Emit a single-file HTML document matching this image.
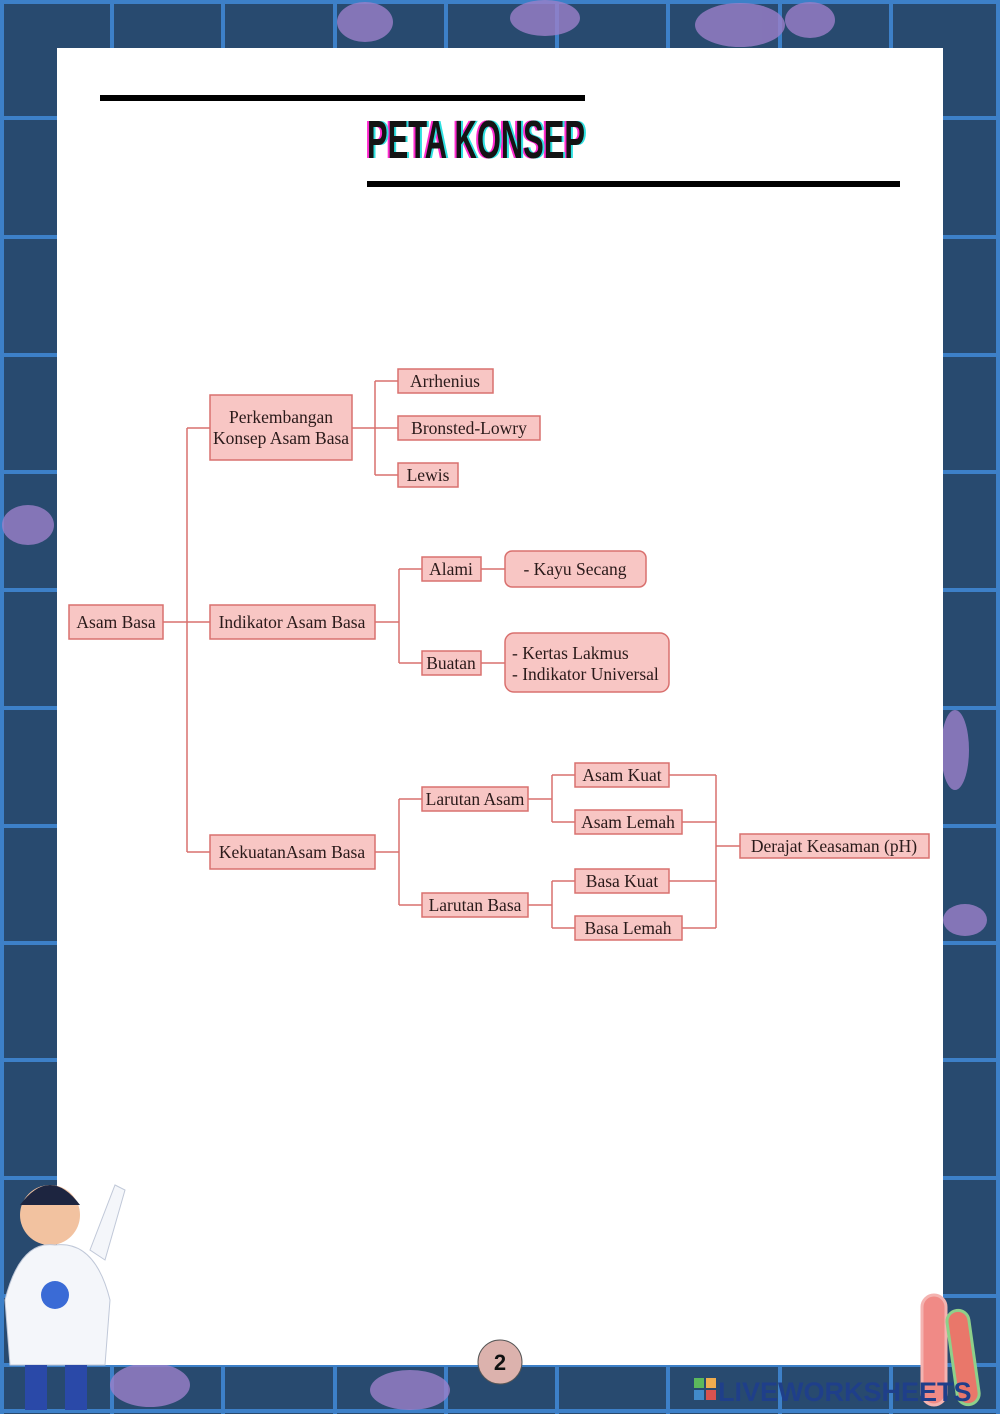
<!DOCTYPE html>
<html><head><meta charset="utf-8"><style>
html,body{margin:0;padding:0;width:1000px;height:1414px;overflow:hidden;background:#284a6f}
svg{display:block}
text{font-family:"Liberation Serif",serif;font-size:17.5px;fill:#2a1a1a}
</style></head><body>
<svg width="1000" height="1414" viewBox="0 0 1000 1414" xmlns="http://www.w3.org/2000/svg">
<rect width="1000" height="1414" fill="#284a6f"/>
<g stroke="#3d80c8" stroke-width="4">
<line x1="2" y1="0" x2="2" y2="1414"/><line x1="112" y1="0" x2="112" y2="1414"/><line x1="223" y1="0" x2="223" y2="1414"/><line x1="335" y1="0" x2="335" y2="1414"/><line x1="446" y1="0" x2="446" y2="1414"/><line x1="557" y1="0" x2="557" y2="1414"/><line x1="668" y1="0" x2="668" y2="1414"/><line x1="780" y1="0" x2="780" y2="1414"/><line x1="891" y1="0" x2="891" y2="1414"/><line x1="998" y1="0" x2="998" y2="1414"/>
<line x1="0" y1="2" x2="1000" y2="2"/><line x1="0" y1="118" x2="1000" y2="118"/><line x1="0" y1="237" x2="1000" y2="237"/><line x1="0" y1="355" x2="1000" y2="355"/><line x1="0" y1="472" x2="1000" y2="472"/><line x1="0" y1="590" x2="1000" y2="590"/><line x1="0" y1="708" x2="1000" y2="708"/><line x1="0" y1="826" x2="1000" y2="826"/><line x1="0" y1="943" x2="1000" y2="943"/><line x1="0" y1="1060" x2="1000" y2="1060"/><line x1="0" y1="1178" x2="1000" y2="1178"/><line x1="0" y1="1296" x2="1000" y2="1296"/><line x1="0" y1="1365" x2="1000" y2="1365"/><line x1="0" y1="1411" x2="1000" y2="1411"/>
</g>
<g fill="#9b7fc9" opacity="0.8">
<ellipse cx="365" cy="22" rx="28" ry="20"/><ellipse cx="545" cy="18" rx="35" ry="18"/><ellipse cx="740" cy="25" rx="45" ry="22"/><ellipse cx="810" cy="20" rx="25" ry="18"/>
<ellipse cx="28" cy="525" rx="26" ry="20"/><ellipse cx="955" cy="750" rx="14" ry="40"/><ellipse cx="965" cy="920" rx="22" ry="16"/><ellipse cx="150" cy="1385" rx="40" ry="22"/><ellipse cx="410" cy="1390" rx="40" ry="20"/>
</g>
<rect x="57" y="48" width="886" height="1317" fill="#fff"/>
<rect x="100" y="95" width="485" height="6" fill="#000"/>
<rect x="367" y="181" width="533" height="6" fill="#000"/>
<text x="365" y="158" textLength="218" lengthAdjust="spacingAndGlyphs" style="font-family:'Liberation Sans',sans-serif;font-size:54px;font-weight:bold;fill:#ff2bd0">PETA KONSEP</text>
<text x="369" y="158" textLength="218" lengthAdjust="spacingAndGlyphs" style="font-family:'Liberation Sans',sans-serif;font-size:54px;font-weight:bold;fill:#2fe0e0">PETA KONSEP</text>
<text x="367" y="158" textLength="218" lengthAdjust="spacingAndGlyphs" style="font-family:'Liberation Sans',sans-serif;font-size:54px;font-weight:bold;fill:#141414">PETA KONSEP</text>
<g stroke="#d9706e" stroke-width="1.5" fill="none">
<path d="M163 622H210M187 428V852M187 428H210M187 852H210"/>
<path d="M352 428H398M375 381V475M375 381H398M375 475H398"/>
<path d="M375 622H399M399 569V663M399 569H422M399 663H422M481 569H505M481 663H505"/>
<path d="M375 852H399M399 799V905M399 799H422M399 905H422"/>
<path d="M528 799H552M552 775V822M552 775H575M552 822H575"/>
<path d="M528 905H552M552 881V928M552 881H575M552 928H575"/>
<path d="M669 775H716M682 822H716M669 881H716M682 928H716M716 775V928M716 846H740"/>
</g>
<g fill="#f8c6c4" stroke="#d9706e" stroke-width="1.5">
<rect x="69" y="605" width="94" height="34"/>
<rect x="210" y="395" width="142" height="65"/>
<rect x="210" y="605" width="165" height="34"/>
<rect x="210" y="835" width="165" height="34"/>
<rect x="398" y="369" width="95" height="24"/>
<rect x="398" y="416" width="142" height="24"/>
<rect x="398" y="463" width="60" height="24"/>
<rect x="422" y="557" width="59" height="24"/>
<rect x="422" y="651" width="59" height="24"/>
<rect x="505" y="551" width="141" height="36" rx="7"/>
<rect x="505" y="633" width="164" height="59" rx="9"/>
<rect x="422" y="787" width="106" height="24"/>
<rect x="422" y="893" width="106" height="24"/>
<rect x="575" y="763" width="94" height="24"/>
<rect x="575" y="810" width="107" height="24"/>
<rect x="575" y="869" width="94" height="24"/>
<rect x="575" y="916" width="107" height="24"/>
<rect x="740" y="834" width="189" height="24"/>
</g>
<g text-anchor="middle">
<text x="116" y="628">Asam Basa</text>
<text x="281" y="423">Perkembangan</text>
<text x="281" y="444">Konsep Asam Basa</text>
<text x="292" y="628">Indikator Asam Basa</text>
<text x="292" y="858">KekuatanAsam Basa</text>
<text x="445" y="387">Arrhenius</text>
<text x="469" y="434">Bronsted-Lowry</text>
<text x="428" y="481">Lewis</text>
<text x="451" y="575">Alami</text>
<text x="451" y="669">Buatan</text>
<text x="575" y="575">- Kayu Secang</text>
<text x="475" y="805">Larutan Asam</text>
<text x="475" y="911">Larutan Basa</text>
<text x="622" y="781">Asam Kuat</text>
<text x="628" y="828">Asam Lemah</text>
<text x="622" y="887">Basa Kuat</text>
<text x="628" y="934">Basa Lemah</text>
<text x="834" y="852">Derajat Keasaman (pH)</text>
</g>
<text x="512" y="659">- Kertas Lakmus</text>
<text x="512" y="680">- Indikator Universal</text>
<circle cx="500" cy="1362" r="22" fill="#dcb2ad" stroke="#555" stroke-width="1"/>
<text x="500" y="1370" text-anchor="middle" style="font-family:'Liberation Sans',sans-serif;font-weight:bold;font-size:22px;fill:#111">2</text>
<g>
<circle cx="50" cy="1215" r="30" fill="#f2c2a0"/><path d="M20 1205 Q50 1165 80 1205 Z" fill="#1d2540"/>
<path d="M5 1300 Q20 1240 55 1245 Q95 1240 110 1300 L105 1365 L10 1365 Z" fill="#f4f6fa" stroke="#c0c8d8"/>
<path d="M90 1250 L115 1185 L125 1190 L105 1260 Z" fill="#f4f6fa" stroke="#c0c8d8"/>
<circle cx="55" cy="1295" r="14" fill="#3a6bd6"/>
<rect x="25" y="1365" width="22" height="45" fill="#2a49a8"/><rect x="65" y="1365" width="22" height="45" fill="#2a49a8"/>
</g>
<g>
<rect x="922" y="1295" width="24" height="110" rx="12" fill="#f08a86" stroke="#f4b3b0" stroke-width="3"/>
<rect x="952" y="1310" width="22" height="95" rx="11" fill="#e9776a" stroke="#8ed08a" stroke-width="3" transform="rotate(-8 963 1357)"/>
</g>
<rect x="694" y="1378" width="10" height="10" fill="#5cb85c"/><rect x="706" y="1378" width="10" height="10" fill="#f0ad4e"/>
<rect x="694" y="1390" width="10" height="10" fill="#428bca"/><rect x="706" y="1390" width="10" height="10" fill="#d9534f"/>
<text x="718" y="1401" style="font-family:'Liberation Sans',sans-serif;font-weight:bold;font-size:27px;fill:#1f3f8a">LIVEWORKSHEETS</text>
</svg>
</body></html>
